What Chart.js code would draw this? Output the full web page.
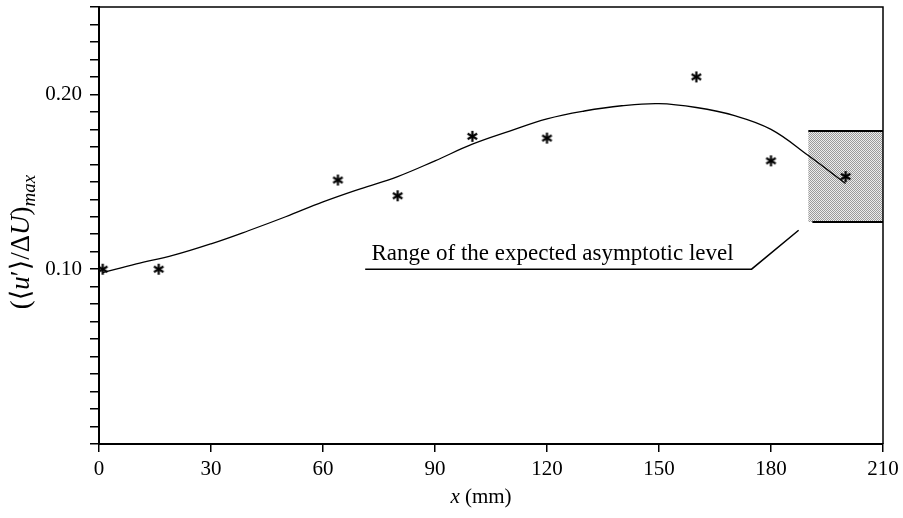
<!DOCTYPE html>
<html>
<head>
<meta charset="utf-8">
<script src="https://cdn.jsdelivr.net/npm/chart.js@4.4.0/dist/chart.umd.min.js"></script>
<style>
  html, body { margin: 0; padding: 0; background: #fff; }
</style>
</head>
<body>
<canvas id="chart" width="903" height="518"></canvas>
<script>
// measured points (asterisks)
const xPoints = [1, 16, 64, 80, 100, 120, 160, 180, 200];
const yPoints = [0.100, 0.100, 0.151, 0.142, 0.176, 0.175, 0.210, 0.162, 0.153];

// fitted curve
const xCurve = [1, 10, 20, 30, 40, 50, 60, 70, 80, 90, 100, 110, 120, 130, 140, 150, 160, 170, 180, 190, 200];
const yCurve = [0.098, 0.103, 0.108, 0.1145, 0.122, 0.130, 0.1385, 0.146, 0.153, 0.162, 0.1715, 0.179, 0.186, 0.1905, 0.1935, 0.1947, 0.1925, 0.188, 0.180, 0.165, 0.149];

// expected asymptotic range (shaded box)
const rangeX = [190, 210];
const rangeY = [0.127, 0.179];

const xTicks = [0, 30, 60, 90, 120, 150, 180, 210];
const yTickLabels = ['0.10', '0.20'];
const noteText = 'Range of the expected asymptotic level';

const SERIF = '"Liberation Serif", "DejaVu Serif", serif';

// 6-armed asterisk used as point marker
function asterisk() {
  const s = 13;
  const c = document.createElement('canvas');
  c.width = s; c.height = s;
  const g = c.getContext('2d');
  g.strokeStyle = '#000';
  g.lineWidth = 2.2;
  g.translate(s / 2, s / 2);
  for (let i = 0; i < 3; i++) {
    g.beginPath();
    g.moveTo(0, -5.5);
    g.lineTo(0, 5.5);
    g.stroke();
    g.rotate(Math.PI / 3);
  }
  return c;
}

// dotted fill for the range box
function stipple(ctx) {
  const c = document.createElement('canvas');
  c.width = 2; c.height = 2;
  const g = c.getContext('2d');
  g.fillStyle = '#ececec';
  g.fillRect(0, 0, 2, 2);
  g.fillStyle = '#9a9a9a';
  g.fillRect(0, 0, 1, 1);
  g.fillRect(1, 1, 1, 1);
  return ctx.createPattern(c, 'repeat');
}

// draws a run of text pieces with their own fonts
function drawRuns(ctx, runs, startX) {
  let cx = startX;
  runs.forEach(r => {
    ctx.font = r.font;
    ctx.fillText(r.t, cx, r.dy || 0);
    cx += ctx.measureText(r.t).width;
  });
}
function runsWidth(ctx, runs) {
  let w = 0;
  runs.forEach(r => { ctx.font = r.font; w += ctx.measureText(r.t).width; });
  return w;
}

const extras = {
  id: 'extras',
  beforeDatasetsDraw(chart) {
    const { ctx, scales: { x, y } } = chart;
    const l = x.getPixelForValue(rangeX[0]), r = x.getPixelForValue(rangeX[1]);
    const t = y.getPixelForValue(rangeY[1]), b = y.getPixelForValue(rangeY[0]);
    ctx.save();
    ctx.fillStyle = stipple(ctx);
    ctx.fillRect(l, t, r - l, b - t);
    ctx.strokeStyle = '#000';
    ctx.lineWidth = 2;
    ctx.beginPath();
    ctx.moveTo(l, t); ctx.lineTo(r, t);
    ctx.moveTo(l + 4, b); ctx.lineTo(r, b);
    ctx.stroke();
    ctx.restore();
  },
  afterDraw(chart) {
    const { ctx, chartArea: a, scales: { x, y } } = chart;
    ctx.save();
    // top and right frame
    ctx.strokeStyle = '#000';
    ctx.lineWidth = 1.5;
    ctx.beginPath();
    ctx.moveTo(a.left, a.top); ctx.lineTo(a.right, a.top); ctx.lineTo(a.right, a.bottom);
    ctx.stroke();

    // annotation with leader line
    ctx.fillStyle = '#000';
    ctx.font = '23px ' + SERIF;
    ctx.textBaseline = 'alphabetic';
    ctx.textAlign = 'left';
    ctx.fillText(noteText, x.getPixelForValue(73), y.getPixelForValue(0.1051));
    ctx.lineWidth = 1.5;
    ctx.beginPath();
    ctx.moveTo(x.getPixelForValue(71.3), y.getPixelForValue(0.1));
    ctx.lineTo(x.getPixelForValue(174.8), y.getPixelForValue(0.1));
    ctx.lineTo(x.getPixelForValue(187.4), y.getPixelForValue(0.1223));
    ctx.stroke();
    ctx.restore();

    // x axis title: italic x (mm)
    const xr = [
      { t: 'x', font: 'italic 21px ' + SERIF },
      { t: ' (mm)', font: '21px ' + SERIF }
    ];
    ctx.save();
    ctx.fillStyle = '#000';
    ctx.textBaseline = 'alphabetic';
    ctx.translate(0, a.bottom + 59);
    drawRuns(ctx, xr, (a.left + a.right) / 2 - 10 - runsWidth(ctx, xr) / 2);
    ctx.restore();

    // y axis title, rotated
    const yr = [
      { t: '(\u27E8', font: '27px ' + SERIF },
      { t: 'u', font: 'italic 27px ' + SERIF },
      { t: '\u2032\u27E9/\u0394', font: '27px ' + SERIF },
      { t: 'U', font: 'italic 27px ' + SERIF },
      { t: ')', font: '27px ' + SERIF },
      { t: 'max', font: 'italic 19px ' + SERIF, dy: 6 }
    ];
    ctx.save();
    ctx.fillStyle = '#000';
    ctx.textBaseline = 'alphabetic';
    ctx.translate(29, 242);
    ctx.rotate(-Math.PI / 2);
    drawRuns(ctx, yr, -runsWidth(ctx, yr) / 2);
    ctx.restore();
  }
};

const star = asterisk();

new Chart(document.getElementById('chart'), {
  type: 'scatter',
  data: {
    datasets: [
      {
        label: 'fit',
        data: xCurve.map((v, i) => ({ x: v, y: yCurve[i] })),
        showLine: true,
        borderColor: '#000',
        borderWidth: 1.3,
        pointRadius: 0,
        tension: 0.4
      },
      {
        label: 'measured',
        data: xPoints.map((v, i) => ({ x: v, y: yPoints[i] })),
        pointStyle: star,
        pointRadius: 6,
        showLine: false
      }
    ]
  },
  options: {
    responsive: false,
    animation: false,
    layout: { padding: { top: 5, right: 20, left: 0, bottom: 0 } },
    plugins: { legend: { display: false }, tooltip: { enabled: false } },
    scales: {
      x: {
        type: 'linear',
        min: 0,
        max: 210,
        afterBuildTicks: s => { s.ticks = xTicks.map(v => ({ value: v })); },
        afterFit: s => { s.height = 74; s.paddingLeft = 0; s.paddingRight = 0; },
        border: { color: '#000', width: 2 },
        grid: { drawOnChartArea: false, drawTicks: true, tickLength: 8, color: '#000', lineWidth: 1.5 },
        ticks: { color: '#000', padding: 5, font: { family: SERIF, size: 21 }, maxRotation: 0 }
      },
      y: {
        min: 0,
        max: 0.25,
        afterFit: s => { s.width = 99; s.paddingTop = 0; s.paddingBottom = 0; },
        border: { color: '#000', width: 2 },
        grid: { drawOnChartArea: false, drawTicks: true, tickLength: 9, color: '#000', lineWidth: 1.5 },
        ticks: {
          stepSize: 0.01,
          autoSkip: false,
          color: '#000',
          padding: 8,
          font: { family: SERIF, size: 21 },
          callback: v => {
            const lbl = v.toFixed(2);
            return yTickLabels.includes(lbl) ? lbl : '';
          }
        }
      }
    }
  },
  plugins: [extras]
});
</script>
</body>
</html>
